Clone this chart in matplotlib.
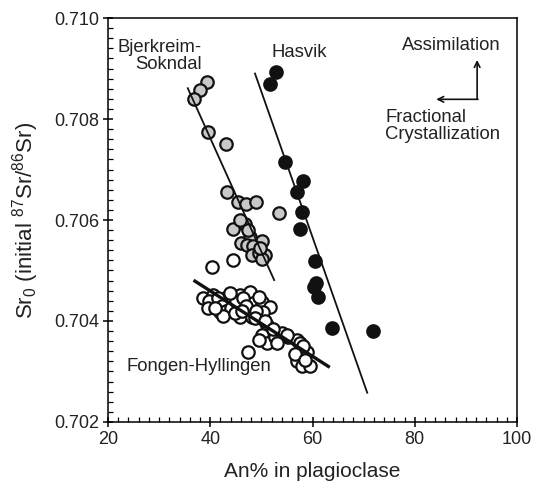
import matplotlib
matplotlib.use("Agg")
import matplotlib.pyplot as plt
from matplotlib.ticker import MultipleLocator, FormatStrFormatter

plt.rcParams['font.family'] = ['Liberation Sans', 'DejaVu Sans']
plt.rcParams['mathtext.default'] = 'regular'

# Bjerkreim-Sokndal (grey filled)
bs_an = [39.3, 38.0, 36.8, 39.5, 43.0, 43.2, 45.5, 46.9, 48.9, 53.5, 46.7, 44.5,
         47.8, 46.1, 47.1, 50.1, 48.4, 48.1, 49.6, 50.7, 50.1, 45.9, 47.3, 49.8]
bs_sr = [0.70873, 0.70857, 0.70840, 0.70775, 0.70750, 0.70655, 0.70635, 0.70631,
         0.70636, 0.70613, 0.70593, 0.70582, 0.70567, 0.70554, 0.70550, 0.70558,
         0.70549, 0.70531, 0.70534, 0.70531, 0.70522, 0.70600, 0.70580, 0.70545]

# Hasvik (black filled)
ha_an = [52.9, 51.7, 54.6, 58.1, 56.9, 58.0, 57.6, 60.4, 60.7, 60.2, 61.1, 63.9, 71.8]
ha_sr = [0.70893, 0.70869, 0.70715, 0.70678, 0.70655, 0.70615, 0.70582, 0.70519,
         0.70475, 0.70468, 0.70448, 0.70387, 0.70380]

# Fongen-Hyllingen (open)
fh_an = [38.6, 40.6, 40.9, 41.9, 43.2, 44.2, 45.8, 45.5, 47.8, 48.4, 47.1, 50.1,
         51.7, 50.4, 45.8, 48.1, 51.0, 50.1, 51.0, 52.7, 54.0, 55.3, 53.0, 56.9,
         57.6, 57.6, 58.9, 56.9, 57.9, 59.5, 47.4, 40.3, 44.5,
         39.8, 41.5, 42.3, 43.0, 44.0, 45.0, 46.5, 47.0, 49.0, 49.5, 42.5, 44.8,
         46.2, 48.8, 43.8, 50.8, 52.3, 49.5, 55.0, 58.2, 56.5, 58.5, 39.5, 41.0]
fh_sr = [0.70446, 0.70451, 0.70435, 0.70418, 0.70448, 0.70438, 0.70452, 0.70428,
         0.70458, 0.70435, 0.70415, 0.70438, 0.70428, 0.70418, 0.70408, 0.70407,
         0.70392, 0.70372, 0.70356, 0.70369, 0.70376, 0.70369, 0.70356, 0.70362,
         0.70356, 0.70336, 0.70339, 0.70320, 0.70310, 0.70310, 0.70339, 0.70507,
         0.70521,
         0.70440, 0.70445, 0.70430, 0.70420, 0.70425, 0.70440, 0.70445, 0.70430,
         0.70420, 0.70448, 0.70410, 0.70415, 0.70420, 0.70405, 0.70455, 0.70400,
         0.70385, 0.70362, 0.70372, 0.70350, 0.70335, 0.70322, 0.70425, 0.70425]

# trend lines (end points)
bs_line_an = [35.6, 52.5]
bs_line_sr = [0.70861, 0.70481]
ha_line_an = [48.75, 70.7]
ha_line_sr = [0.70890, 0.70258]
fh_line_an = [37.0, 63.1]
fh_line_sr = [0.70479, 0.70310]

fig = plt.figure(figsize=(5.42, 4.87), dpi=100)
ax = fig.add_axes([0.1993, 0.1335, 0.7546, 0.8295])

ms = 80
ax.scatter(fh_an, fh_sr, s=ms, facecolor='white', edgecolor='#111111', linewidth=1.6, zorder=2)
ax.scatter(bs_an, bs_sr, s=ms, facecolor='#c8c8c8', edgecolor='#111111', linewidth=1.6, zorder=3)
ax.scatter(ha_an, ha_sr, s=ms, facecolor='#111111', edgecolor='#111111', linewidth=1.6, zorder=3)

ax.plot(bs_line_an, bs_line_sr, color='#111111', lw=1.3, zorder=4)
ax.plot(ha_line_an, ha_line_sr, color='#111111', lw=1.3, zorder=4)
ax.plot(fh_line_an, fh_line_sr, color='#111111', lw=2.4, zorder=4)

fs = 13.3
ax.text(38.4, 0.70925, 'Bjerkreim-\nSokndal', ha='right', va='center',
        multialignment='right', fontsize=fs, color='#222222', linespacing=1.0)
ax.text(57.4, 0.70932, 'Hasvik', ha='center', va='center', fontsize=fs, color='#222222')
ax.text(37.8, 0.70310, 'Fongen-Hyllingen', ha='center', va='center', fontsize=fs, color='#222222')
ax.text(87.2, 0.70945, 'Assimilation', ha='center', va='center', fontsize=fs, color='#222222')
ax.text(74.2, 0.70786, 'Fractional\nCrystallization', ha='left', va='center',
        fontsize=fs, color='#222222', linespacing=1.0)

arrow = dict(arrowstyle='->', color='#111111', lw=1.2, shrinkA=0, shrinkB=0)
ax.annotate('', xy=(92.2, 0.70917), xytext=(92.2, 0.70839), arrowprops=arrow)
ax.annotate('', xy=(84.2, 0.70839), xytext=(92.35, 0.70839), arrowprops=arrow)

ax.set_xlim(20, 100)
ax.set_ylim(0.702, 0.710)
ax.xaxis.set_major_locator(MultipleLocator(20))
ax.xaxis.set_minor_locator(MultipleLocator(2))
ax.yaxis.set_major_locator(MultipleLocator(0.002))
ax.yaxis.set_minor_locator(MultipleLocator(0.0002))
ax.yaxis.set_major_formatter(FormatStrFormatter('%.3f'))
ax.tick_params(which='major', direction='inout', length=7, width=1.1, labelsize=13,
               labelcolor='#222222', pad=3)
ax.tick_params(which='minor', direction='in', length=3.5, width=0.9)
for sp in ax.spines.values():
    sp.set_linewidth(1.1)

ax.set_xlabel('An% in plagioclase', fontsize=15, color='#222222', labelpad=10)
ax.set_ylabel('Sr$_0$ (initial $^{87}$Sr/$^{86}$Sr)', fontsize=16, color='#222222', labelpad=9)

fig.savefig('out.png', dpi=100)
